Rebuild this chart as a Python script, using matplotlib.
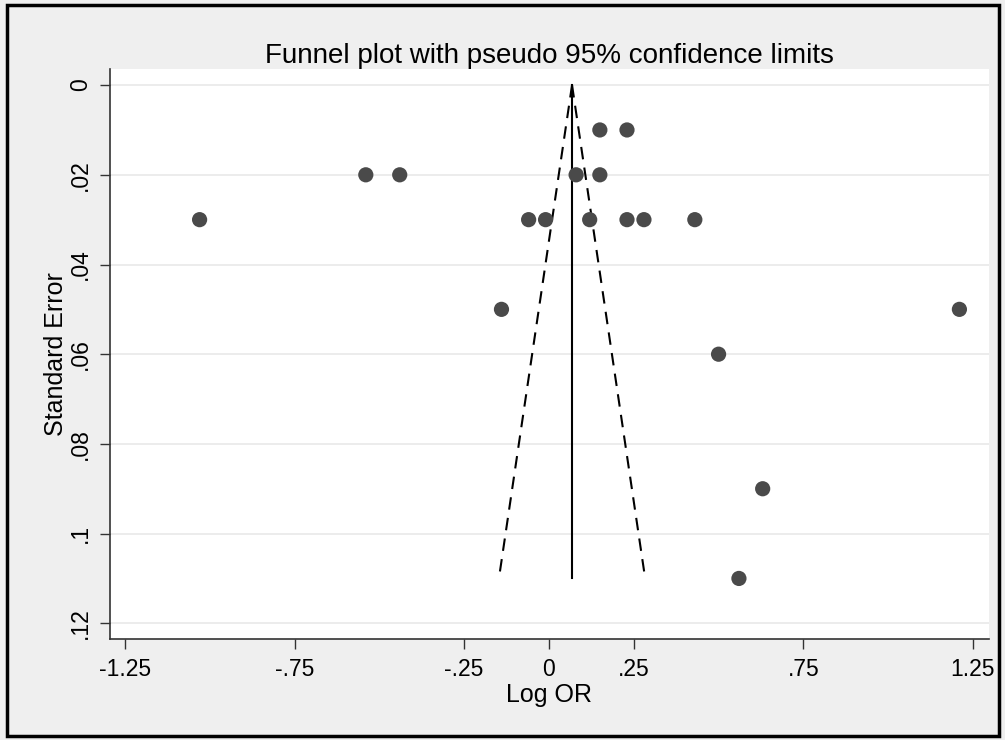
import numpy as np
import matplotlib
matplotlib.use("Agg")
import matplotlib.pyplot as plt
from matplotlib.patches import Rectangle

plt.rcParams['font.family'] = ['Liberation Sans', 'DejaVu Sans']

# study estimates
log_or = [-1.03, -0.54, -0.44, -0.06, -0.01, 0.08, 0.15, 0.23, 0.15, 0.12,
          0.23, 0.28, 0.43, -0.14, 1.21, 0.50, 0.63, 0.56]
std_err = [0.03, 0.02, 0.02, 0.03, 0.03, 0.02, 0.01, 0.01, 0.02, 0.03,
           0.03, 0.03, 0.03, 0.05, 0.05, 0.06, 0.09, 0.11]
pooled = 0.068
se_max = 0.11

xticks = [-1.25, -0.75, -0.25, 0, 0.25, 0.75, 1.25]
xtick_labels = ["-1.25", "-.75", "-.25", "0", ".25", ".75", "1.25"]
yticks = [0, 0.02, 0.04, 0.06, 0.08, 0.1, 0.12]
ytick_labels = ["0", ".02", ".04", ".06", ".08", ".1", ".12"]

bg = "#efefef"
fig = plt.figure(figsize=(10.05, 7.4), dpi=100, facecolor=bg)
ax = fig.add_axes([0.1095, 0.1365, 0.8745, 0.7703])
ax.set_facecolor("white")

for y in yticks:
    ax.axhline(y, color="#eaeaea", lw=1.3, zorder=0)

# pseudo 95% limits
se_line = np.array([0, se_max])
ax.plot(pooled - 1.96 * se_line, se_line, color="black", lw=1.5, ls=(0, (6, 4)), zorder=2)
ax.plot(pooled + 1.96 * se_line, se_line, color="black", lw=1.5, ls=(0, (6, 4)), zorder=2)
ax.plot([pooled, pooled], [0, se_max], color="black", lw=1.5, zorder=2)

ax.scatter(log_or, std_err, s=120, color="#4a4a4a", edgecolors="none", zorder=3)

ax.set_xlim(-1.294, 1.297)
ax.set_ylim(0.1235, -0.0036)

ax.set_xticks(xticks)
ax.set_xticklabels(xtick_labels, fontsize=16.5)
ax.set_yticks(yticks)
ax.set_yticklabels(ytick_labels, fontsize=16.5, rotation=90, va="center")
ax.tick_params(axis="both", direction="out", length=7, width=1, color="#333333")
ax.tick_params(axis="x", pad=7)
ax.tick_params(axis="y", pad=6)

for s in ["top", "right"]:
    ax.spines[s].set_visible(False)
for s in ["left", "bottom"]:
    ax.spines[s].set_color("#333333")
    ax.spines[s].set_linewidth(1.2)

ax.set_xlabel("Log OR", fontsize=18, labelpad=1)
ax.set_ylabel("Standard Error", fontsize=18, labelpad=0.5)
ax.set_title("Funnel plot with pseudo 95% confidence limits", fontsize=20, pad=4)

fig.patches.append(Rectangle((0.007, 0.005), 0.987, 0.988, transform=fig.transFigure,
                             fill=False, edgecolor="black", lw=2.5))

fig.savefig("out.png", dpi=100, facecolor=bg)
